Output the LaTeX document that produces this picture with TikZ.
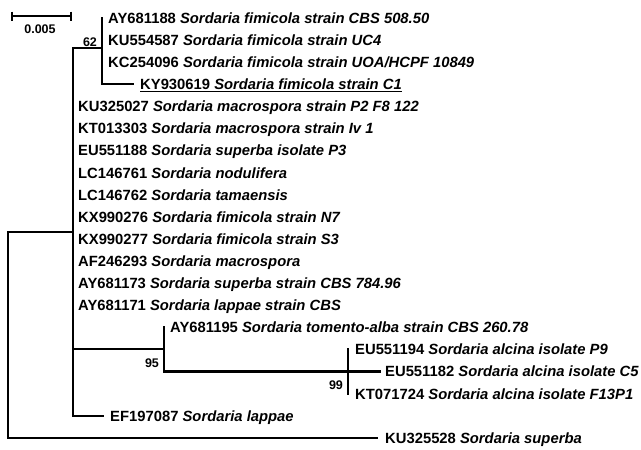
\documentclass[tikz,border=0pt]{standalone}
\usepackage{fontspec}
\setmainfont{Liberation Sans}
\begin{document}
\begin{tikzpicture}[x=1pt,y=-1pt,
  br/.style={line width=2.8pt,line cap=rect},
  leaf/.style={anchor=base west,inner sep=0pt,font=\fontsize{14.8}{16}\selectfont\bfseries},
  boot/.style={anchor=center,inner sep=0pt,font=\fontsize{12.5}{14}\selectfont\bfseries}]
\useasboundingbox (0,0) rectangle (641,450);
% scale bar
\coordinate (s1) at (12,16); \coordinate (s2) at (71,16);
\draw[line width=2.6pt] (s1) -- (s2);
\draw[line width=2.4pt] (12,11.5) -- (12,20.5) (71,11.5) -- (71,20.5);
\node[boot] (sb) at (40,29.5) {0.005};
% internal coordinates
\coordinate (root) at (8,232);
\coordinate (rootb) at (8,438);
\coordinate (mtop) at (73,48);
\coordinate (mmid) at (73,232);
\coordinate (mbot) at (73,416);
\coordinate (c62) at (102,48);
\coordinate (c62t) at (102,18);
\coordinate (c62b) at (102,84);
\coordinate (ky) at (133,84);
\coordinate (m95) at (73,349);
\coordinate (c95) at (164,349);
\coordinate (c95t) at (164,327.5);
\coordinate (c95b) at (164,371.5);
\coordinate (c99) at (348,371.5);
\coordinate (c99t) at (348,349.5);
\coordinate (c99b) at (348,394);
\coordinate (c5) at (380,371.5);
\coordinate (ef) at (103,416);
\coordinate (ku) at (377,438);
% branches
\draw[br] (root) -- (rootb) -- (ku);
\draw[br] (root) -- (mmid);
\draw[br] (mtop) -- (mbot) -- (ef);
\draw[br] (mtop) -- (c62);
\draw[br] (c62t) -- (c62b) -- (ky);
\draw[br] (m95) -- (c95);
\draw[br] (c95t) -- (c95b) -- (c99);
\draw[br] (c99t) -- (c99b);
\draw[br] (c99) -- (c5);
% bootstrap values
\node[boot] (b62) at (90,42) {62};
\node[boot] (b95) at (152,363) {95};
\node[boot] (b99) at (336,385) {99};
% leaves
\node[leaf] (l0) at (108,23.3) {AY681188 \textit{Sordaria fimicola strain CBS 508.50}};
\node[leaf] (l1) at (108,45.4) {KU554587 \textit{Sordaria fimicola strain UC4}};
\node[leaf] (l2) at (108,67.5) {KC254096 \textit{Sordaria fimicola strain UOA/HCPF 10849}};
\node[leaf] (l3) at (140,89.6) {\underline{KY930619 \textit{Sordaria fimicola strain C1}}};
\node[leaf] (l4) at (78,111.7) {KU325027 \textit{Sordaria macrospora strain P2 F8 122}};
\node[leaf] (l5) at (78,133.8) {KT013303 \textit{Sordaria macrospora strain Iv 1}};
\node[leaf] (l6) at (78,155.9) {EU551188 \textit{Sordaria superba isolate P3}};
\node[leaf] (l7) at (78,178.0) {LC146761 \textit{Sordaria nodulifera}};
\node[leaf] (l8) at (78,200.1) {LC146762 \textit{Sordaria tamaensis}};
\node[leaf] (l9) at (78,222.2) {KX990276 \textit{Sordaria fimicola strain N7}};
\node[leaf] (l10) at (78,244.3) {KX990277 \textit{Sordaria fimicola strain S3}};
\node[leaf] (l11) at (78,266.4) {AF246293 \textit{Sordaria macrospora}};
\node[leaf] (l12) at (78,288.5) {AY681173 \textit{Sordaria superba strain CBS 784.96}};
\node[leaf] (l13) at (78,310.6) {AY681171 \textit{Sordaria lappae strain CBS}};
\node[leaf] (l14) at (170,332.7) {AY681195 \textit{Sordaria tomento-alba strain CBS 260.78}};
\node[leaf] (l15) at (355,354.8) {EU551194 \textit{Sordaria alcina isolate P9}};
\node[leaf] (l16) at (385,376.9) {EU551182 \textit{Sordaria alcina isolate C5}};
\node[leaf] (l17) at (355,399.0) {KT071724 \textit{Sordaria alcina isolate F13P1}};
\node[leaf] (l18) at (110,421.1) {EF197087 \textit{Sordaria lappae}};
\node[leaf] (l19) at (385,443.2) {KU325528 \textit{Sordaria superba}};
\end{tikzpicture}
\end{document}
